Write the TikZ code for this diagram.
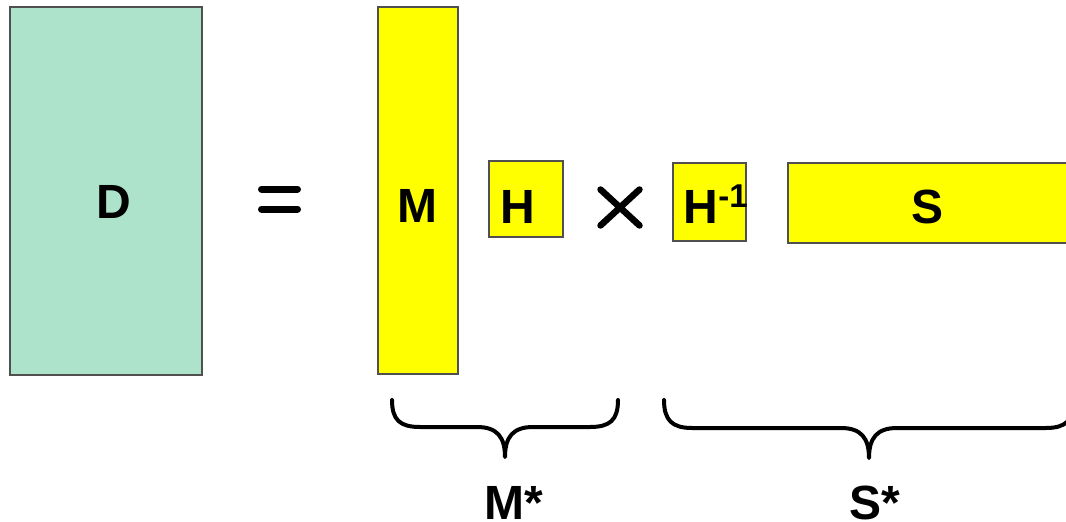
\documentclass[tikz,border=0pt]{standalone}
\usepackage{fontspec}
\setmainfont{Liberation Sans}
\definecolor{mintgreen}{RGB}{173,227,203}
\definecolor{rimgray}{RGB}{80,80,80}
\definecolor{puryellow}{RGB}{255,255,0}
\tikzset{
  block/.style={draw=rimgray, line width=1.2pt, inner sep=0pt},
  greenblock/.style={block, fill=mintgreen},
  yellowblock/.style={block, fill=puryellow},
  letter/.style={inner sep=0pt, anchor=base, font=\fontsize{48}{50}\selectfont\bfseries},
  curly/.style={line width=4pt, line cap=round, line join=round},
  sign/.style={line cap=round}
}
\begin{document}
\begin{tikzpicture}[x=1pt,y=-1pt]
    \useasboundingbox (0,0) rectangle (1066,522);
    \clip (0,0) rectangle (1066,522);
    % blocks
    \node[greenblock, minimum width=192pt, minimum height=368pt] (D) at (106,191) {};
    \node[yellowblock, minimum width=80pt, minimum height=367pt] (M) at (418,190.5) {};
    \node[yellowblock, minimum width=74pt, minimum height=76pt] (H) at (526,199) {};
    \node[yellowblock, minimum width=73pt, minimum height=78pt] (Hinv) at (709.5,202) {};
    \node[yellowblock, minimum width=302pt, minimum height=80pt] (S) at (939,203) {};
    % letters
    \node[letter] (Dtxt) at (113.5,218) {D};
    \node[letter] (Mtxt) at (417,222) {M};
    \node[letter] (Htxt) at (517.5,223) {H};
    \node[letter, anchor=base west] (Hinvtxt) at (683.5,223)
        {H\raisebox{16pt}{\fontsize{33}{33}\selectfont -1}};
    \node[letter] (Stxt) at (927,223) {S};
    % equals and times
    \draw[sign, line width=7pt] (261.5,189) -- (297.5,189);
    \draw[sign, line width=7pt] (261.5,209) -- (297.5,209);
    \draw[sign, line width=6.5pt] (600.5,189.5) -- (639.5,225.5);
    \draw[sign, line width=6.5pt] (600.5,225.5) -- (639.5,189.5);
    % braces
    \draw[curly] (392,400) .. controls (392,420) and (400,427) .. (420,427)
        -- (477,427) .. controls (497,427) and (505,437) .. (505,457)
        .. controls (505,437) and (513,427) .. (533,427)
        -- (590,427) .. controls (610,427) and (618,420) .. (618,400);
    \draw[curly] (664,400) .. controls (664,420) and (672,428) .. (692,428)
        -- (841,428) .. controls (861,428) and (869,438) .. (869,458)
        .. controls (869,438) and (877,428) .. (897,428)
        -- (1046,428) .. controls (1066,428) and (1074,420) .. (1074,400);
    \node[letter] (Mstar) at (514,519.5) {M*};
    \node[letter] (Sstar) at (875,519.5) {S*};
\end{tikzpicture}
\end{document}
